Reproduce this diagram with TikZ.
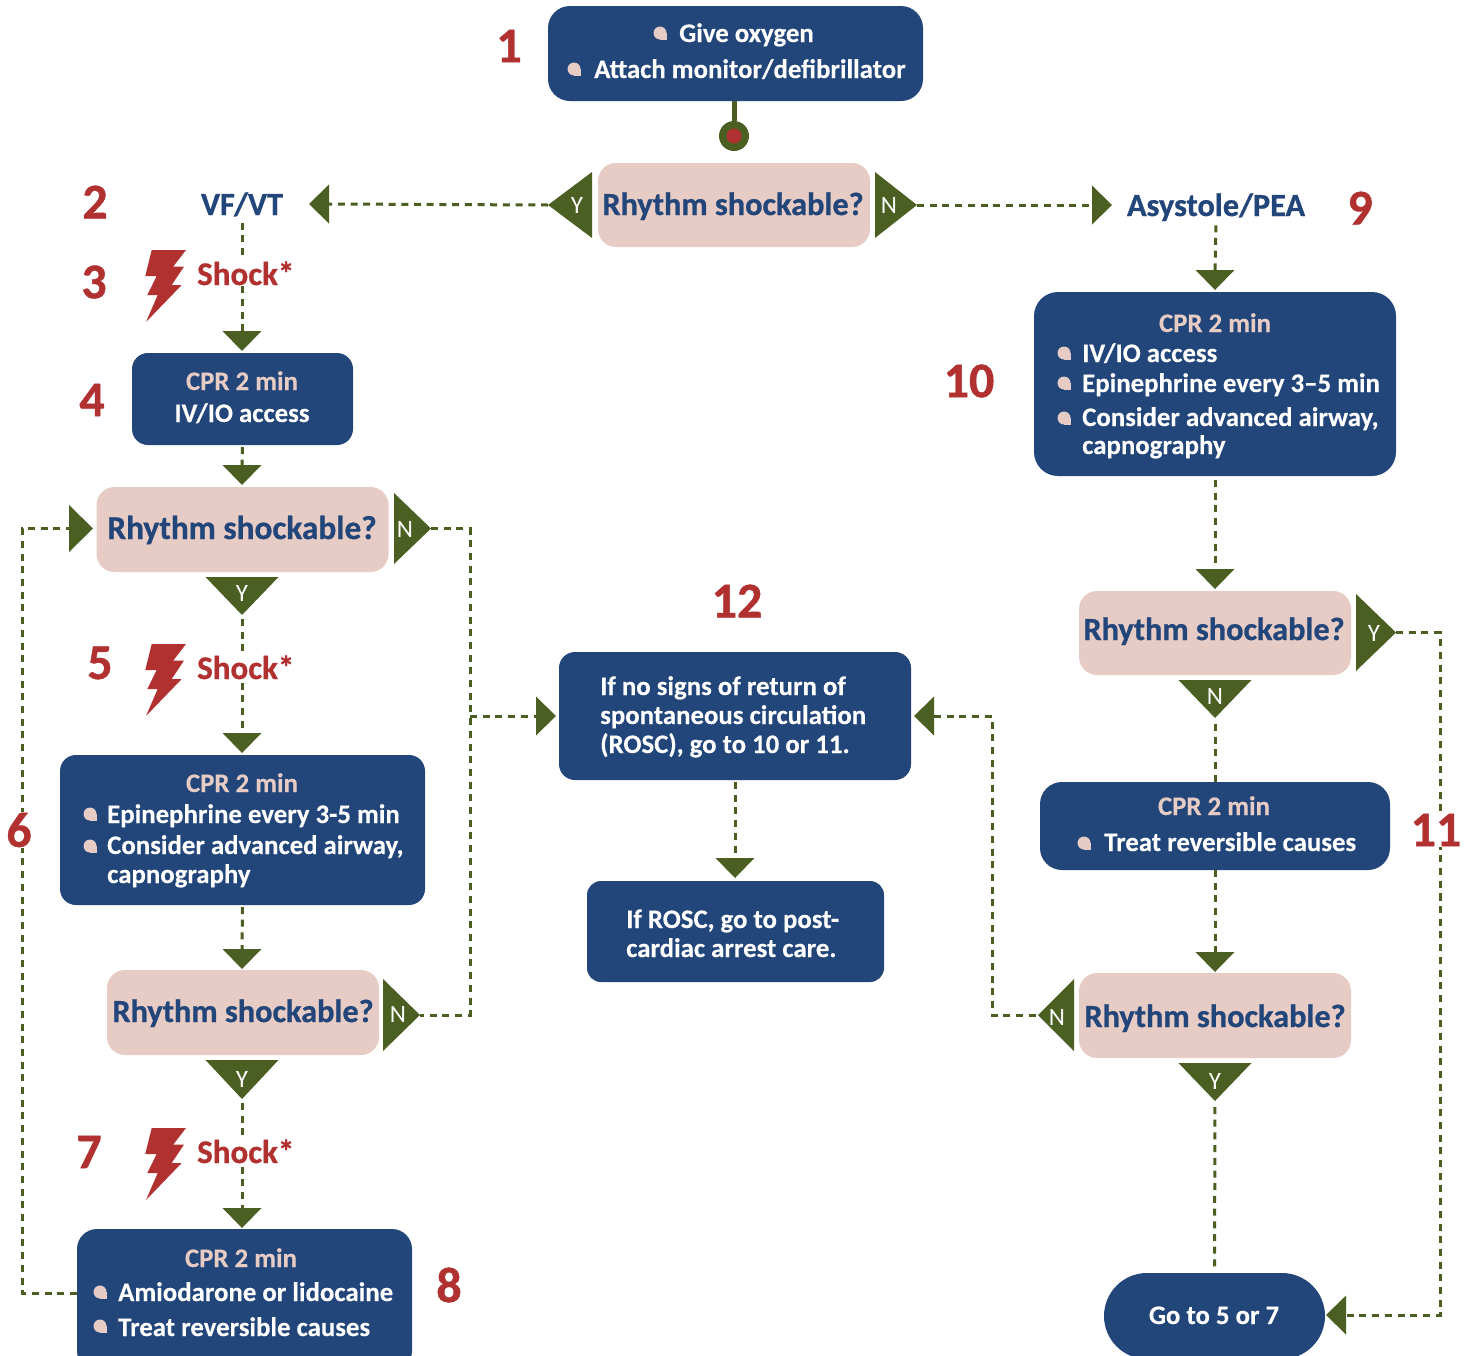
\documentclass[tikz,border=0pt]{standalone}
\usepackage{fontspec}
\setmainfont{Carlito}[BoldFeatures={FakeBold=0.25}]
\newfontfamily\heavyf{Carlito}[BoldFeatures={FakeBold=0.8}]
\usetikzlibrary{shapes.geometric}
\definecolor{navy}{HTML}{22457A}
\definecolor{pinkf}{HTML}{E7CCC5}
\definecolor{redc}{HTML}{B13130}
\definecolor{grn}{HTML}{4B5F22}
\newcommand{\bltat}[2]{\fill[redc] (#1+5.7,#2-72) -- (#1+40,#2-72) -- (#1+27.3,#2-55.5) -- (#1+38,#2-55.5) -- (#1+25.7,#2-37) -- (#1+35.7,#2-37) -- (#1,#2) -- (#1+11.7,#2-27) -- (#1+1.3,#2-27) -- (#1+10.7,#2-46) -- (#1-0.7,#2-46) -- cycle;}
\newcommand{\bulat}[2]{\fill[pinkf] (#1,#2) circle (6.5); \fill[pinkf] (#1,#2) rectangle ++(6.5,6.5);}
\tikzset{
 x=1pt,y=-1pt,
 box/.style={draw=none,fill=navy,rectangle,rounded corners=#1,inner sep=0pt,outer sep=0pt},
 rhy/.style={draw=none,fill=pinkf,rectangle,rounded corners=18pt,inner sep=0pt,outer sep=0pt},
 tri/.style 2 args={isosceles triangle,isosceles triangle stretches,fill=grn,draw=none,inner sep=0pt,outer sep=0pt,minimum width=#1,minimum height=#2,anchor=apex},
 pd/.style 2 args={tri={#1}{#2},shape border rotate=270},
 pl/.style 2 args={tri={#1}{#2},shape border rotate=180},
 pr/.style 2 args={tri={#1}{#2},shape border rotate=0},
 conn/.style={draw=grn,line width=3pt,dash pattern=on 7pt off 5.7pt},
 wt/.style={text=white,font=\fontsize{26.8}{27}\selectfont\bfseries,inner sep=0pt,anchor=base west},
 wc/.style={wt,anchor=base},
 pc/.style={text=pinkf,font=\fontsize{26.8}{27}\selectfont\bfseries,inner sep=0pt,anchor=base},
 rt/.style={text=navy,font=\fontsize{32.3}{33}\heavyf\bfseries,inner sep=0pt,anchor=base},
 num/.style={text=redc,font=\fontsize{50}{50}\heavyf\bfseries,inner sep=1pt,fill=white,anchor=center},
 sh/.style={text=redc,font=\fontsize{33}{33}\heavyf\bfseries,inner sep=1pt,fill=white,anchor=base west},
 yn/.style={text=white,font=\fontsize{25}{25}\selectfont,inner sep=0pt,anchor=center},
}
\begin{document}
\begin{tikzpicture}
\useasboundingbox (0,0) rectangle (1464,1355);
\clip (0,0) rectangle (1464,1355);
% boxes
\node[box=22pt,minimum width=375pt,minimum height=95pt] (b1) at (735.5,53.5) {};
\node[rhy,minimum width=272pt,minimum height=84pt] (r1) at (734,205) {};
\node[box=16pt,minimum width=221pt,minimum height=92pt] (b4) at (242.5,399) {};
\node[rhy,minimum width=292pt,minimum height=85pt] (r2) at (242.5,529.5) {};
\node[box=16pt,minimum width=365pt,minimum height=150pt] (b6) at (242.5,830) {};
\node[rhy,minimum width=272pt,minimum height=85pt] (r3) at (243,1012.5) {};
\node[box=20pt,minimum width=335pt,minimum height=142pt] (b8) at (244.5,1300) {};
\node[box=16pt,minimum width=352pt,minimum height=128pt] (b12) at (735,716) {};
\node[box=14pt,minimum width=297pt,minimum height=101pt] (brosc) at (735.5,931.5) {};
\node[box=24pt,minimum width=362pt,minimum height=184pt] (b10) at (1215,384) {};
\node[rhy,minimum width=272pt,minimum height=84pt] (r4) at (1215,633) {};
\node[box=22pt,minimum width=350pt,minimum height=88pt] (b11) at (1215,826) {};
\node[rhy,minimum width=272pt,minimum height=85pt] (r5) at (1215,1015.5) {};
\node[box=43pt,minimum width=221pt,minimum height=86pt] (bgo) at (1214.5,1316) {};
% start dot
\node[circle,fill=grn,minimum size=30pt,inner sep=0pt,outer sep=0pt] (dot) at (734,136) {};
\node[circle,fill=redc,minimum size=15pt,inner sep=0pt] (dotc) at (734,136) {};
\draw[grn,line width=5pt] (b1.south -| dot) -- (dot.north);
% triangles
\node[pl={66}{44}] (ty1) at (548,205) {};
\node[pr={66}{42}] (tn1) at (917,205) {};
\node[pl={39}{20}] (a2) at (309,204) {};
\node[pr={39}{20}] (a9) at (1112,205) {};
\node[pd={39}{20}] (a4) at (242,351) {};
\node[pd={39}{20}] (ar2) at (242,485) {};
\node[pr={47}{24}] (a6) at (93,528.5) {};
\node[pr={71}{37}] (tn2) at (431,528.5) {};
\node[pd={73}{38}] (ty2) at (242,615) {};
\node[pd={39}{20}] (a5) at (242,753) {};
\node[pd={39}{20}] (ar3) at (242,969) {};
\node[pr={72}{37}] (tn3) at (420,1015) {};
\node[pd={73}{39}] (ty3) at (242,1099) {};
\node[pd={39}{20}] (a8) at (242,1228) {};
\node[pr={39}{20}] (a12l) at (556,716) {};
\node[pl={39}{20}] (a12r) at (914,716) {};
\node[pd={39}{20}] (arosc) at (735,878) {};
\node[pd={39}{20}] (a10) at (1215,290) {};
\node[pd={39}{20}] (ar4) at (1215,589) {};
\node[pr={77}{40}] (ty4) at (1396,632.5) {};
\node[pd={73}{38}] (tn4) at (1215,718) {};
\node[pd={39}{20}] (ar5) at (1215,972) {};
\node[pl={72}{36}] (tn5) at (1038,1015) {};
\node[pd={73}{38}] (ty5) at (1215,1101) {};
\node[pl={39}{20}] (ago) at (1326,1315) {};
% free corners
\coordinate (jl) at (470,716);
\coordinate (jr) at (992,716);
\coordinate (loop) at (22,900);
\coordinate (far) at (1440,900);
% vf/vt and asystole
\node[rt] (vf) at (242,215) {VF/VT};
\node[rt] (as) at (1216,216) {Asystole/PEA};
% connectors
\draw[conn] (ty1.apex) -- (a2.lower side);
\draw[conn] (tn1.apex) -- (a9.lower side);
\draw[conn,shorten <=6pt] (vf.south) -- (a4.lower side);
\draw[conn,shorten <=4pt] (as.south) -- (a10.lower side);
\draw[conn,shorten <=2pt] (b4.south) -- (ar2.lower side);
\draw[conn,shorten <=4pt] (ty2.apex) -- (a5.lower side);
\draw[conn,shorten <=2pt] (b6.south) -- (ar3.lower side);
\draw[conn,shorten <=4pt] (ty3.apex) -- (a8.lower side);
\draw[conn] ([yshift=7pt]b8.west) -| (loop) |- (a6.lower side);
\draw[conn] (tn2.apex) -| (jl) |- (tn3.apex);
\draw[conn] (jl) -- (a12l.lower side);
\draw[conn] (a12r.lower side) -- (jr) |- (tn5.apex);
\draw[conn,shorten <=2pt] (b12.south) -- (arosc.lower side);
\draw[conn,shorten <=4pt] (b10.south) -- (ar4.lower side);
\draw[conn,shorten <=6pt] (tn4.apex) -- (b11.north);
\draw[conn] (b11.south) -- (ar5.lower side);
\draw[conn,shorten <=6pt,shorten >=4pt] (ty5.apex) -- (bgo.north);
\draw[conn] (ty4.apex) -| (far) |- (ago.lower side);
% triangle letters
\node[yn] (lty1) at (577,205) {Y};
\node[yn] (ltn1) at (889,205) {N};
\node[yn] (ltn2) at (405,529) {N};
\node[yn] (lty2) at (242,593) {Y};
\node[yn] (ltn3) at (398,1014) {N};
\node[yn] (lty3) at (242,1079) {Y};
\node[yn] (lty4) at (1374,633) {Y};
\node[yn] (ltn4) at (1215,696) {N};
\node[yn] (ltn5) at (1057,1017) {N};
\node[yn] (lty5) at (1215,1081) {Y};
% rhythm texts
\node[rt] (tr1) at (733,215) {Rhythm shockable?};
\node[rt,font=\fontsize{33.3}{34}\heavyf\bfseries] (tr2) at (242,539) {Rhythm shockable?};
\node[rt] (tr3) at (243,1022) {Rhythm shockable?};
\node[rt] (tr4) at (1214,640) {Rhythm shockable?};
\node[rt] (tr5) at (1215,1027) {Rhythm shockable?};
% shocks
\bltat{146}{322}
\bltat{146}{716}
\bltat{146}{1200}
\node[sh] (s3) at (196,285) {Shock*};
\node[sh] (s5) at (196,679) {Shock*};
\node[sh] (s7) at (196,1163) {Shock*};
% box text
\bulat{660}{33}\bulat{574}{69}
\node[wt] (t1a) at (679,42) {Give oxygen};
\node[wt] (t1b) at (594,78) {Attach monitor/defibrillator};
\node[pc] (t4a) at (242,390) {CPR 2 min};
\node[wc] (t4b) at (242,422) {IV/IO access};
\node[pc] (t6a) at (242,792) {CPR 2 min};
\bulat{90}{814}\bulat{90}{846}
\node[wt] (t6b) at (107,823) {Epinephrine every 3-5 min};
\node[wt] (t6c) at (107,854) {Consider advanced airway,};
\node[wt] (t6d) at (107,883) {capnography};
\node[pc] (t8a) at (241,1267) {CPR 2 min};
\bulat{100}{1292}\bulat{100}{1326}
\node[wt] (t8b) at (118,1301) {Amiodarone or lidocaine};
\node[wt] (t8c) at (118,1336) {Treat reversible causes};
\node[wt] (t12a) at (600,695) {If no signs of return of};
\node[wt] (t12b) at (600,724) {spontaneous circulation};
\node[wt] (t12c) at (600,753) {(ROSC), go to 10 or 11.};
\node[wt] (tra) at (626,928) {If ROSC, go to post-};
\node[wt] (trb) at (626,957) {cardiac arrest care.};
\node[pc] (t10a) at (1215,332) {CPR 2 min};
\bulat{1064}{353}\bulat{1064}{383}\bulat{1064}{418}
\node[wt] (t10b) at (1082,362) {IV/IO access};
\node[wt] (t10c) at (1082,392) {Epinephrine every 3–5 min};
\node[wt] (t10d) at (1082,426) {Consider advanced airway,};
\node[wt] (t10e) at (1082,454) {capnography};
\node[pc] (t11a) at (1214,815) {CPR 2 min};
\bulat{1084}{843}
\node[wt] (t11b) at (1104,851) {Treat reversible causes};
\node[wc] (tgo) at (1214,1324) {Go to 5 or 7};
% numbers
\node[num] (n1) at (509,46) {1};
\node[num] (n2) at (95,202) {2};
\node[num] (n3) at (94,282) {3};
\node[num] (n4) at (92,400) {4};
\node[num] (n5) at (100,663) {5};
\node[num] (n6) at (19,830) {6};
\node[num] (n7) at (89,1152) {7};
\node[num] (n8) at (449,1285) {8};
\node[num] (n9) at (1360,208) {9};
\node[num] (n10) at (969,381) {10};
\node[num] (n11) at (1436,830) {11};
\node[num] (n12) at (737,601) {12};
\end{tikzpicture}
\end{document}
